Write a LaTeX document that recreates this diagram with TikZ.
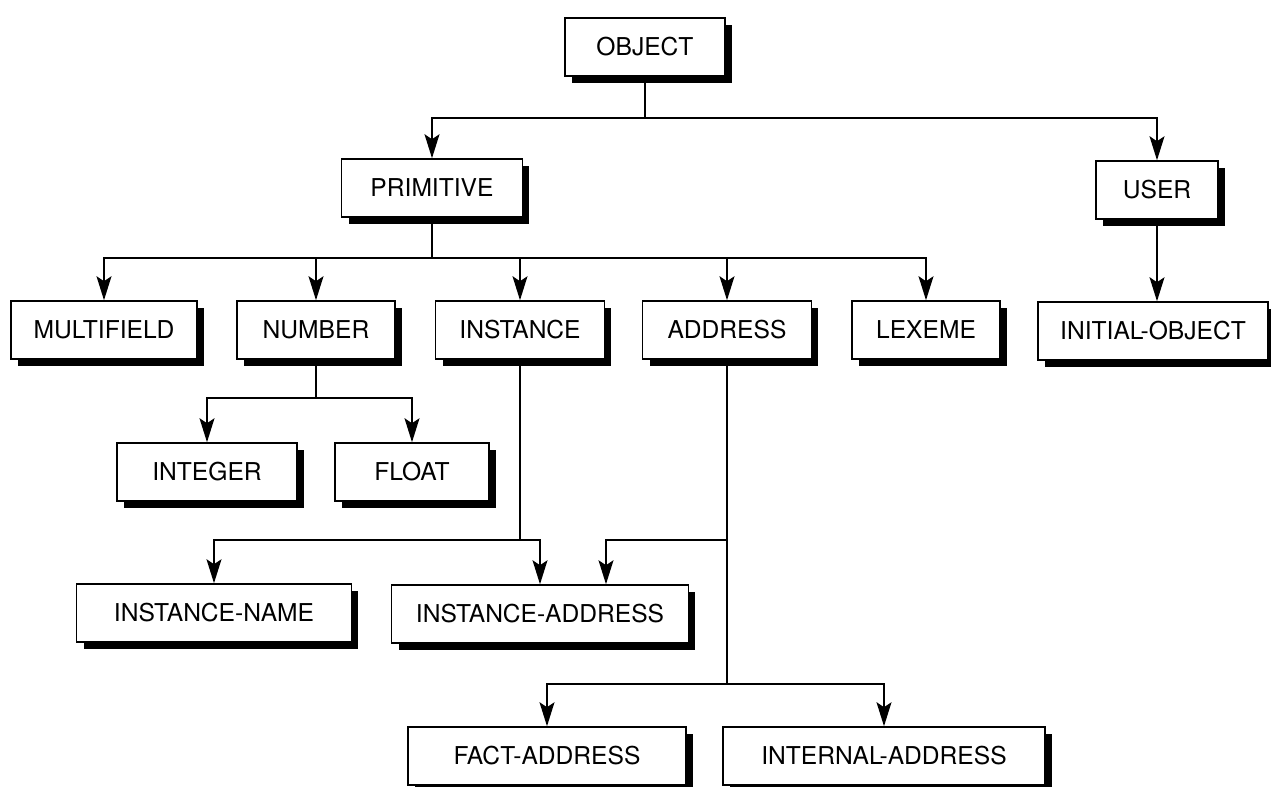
\documentclass[tikz,border=0pt]{standalone}
\usepackage{fontspec}
\setmainfont{TeX Gyre Heros}
\usetikzlibrary{arrows.meta,shadows}
\begin{document}
\begin{tikzpicture}[x=0.02cm,y=-0.02cm,
	box/.style={draw,line width=0.9pt,fill=white,minimum height=1.16cm,inner sep=0pt,
		font=\fontsize{14}{16}\selectfont,
		drop shadow={shadow xshift=0.14cm,shadow yshift=-0.14cm,fill=black,opacity=1}},
	arr/.style={-{Stealth[length=0.48cm,width=0.3cm,inset=0.1cm]}},
	every path/.style={line width=0.8pt}]
		\useasboundingbox (0,0) rectangle (1271,787);
		% top levels
		\node[box,minimum width=3.2cm] (object) at (645,47) {OBJECT};
		\node[box,minimum width=3.62cm] (primitive) at (432,188) {PRIMITIVE};
		\node[box,minimum width=2.44cm] (user) at (1157,190) {USER};
		% primitive types
		\node[box,minimum width=3.72cm] (multifield) at (104,330) {MULTIFIELD};
		\node[box,minimum width=3.16cm] (number) at (316,330) {NUMBER};
		\node[box,minimum width=3.38cm] (instance) at (520,330) {INSTANCE};
		\node[box,minimum width=3.38cm] (address) at (727,330) {ADDRESS};
		\node[box,minimum width=2.96cm] (lexeme) at (926,330) {LEXEME};
		\node[box,minimum width=4.6cm] (initobj) at (1153,331) {INITIAL-OBJECT};
		\node[box,minimum width=3.6cm] (integer) at (207,472) {INTEGER};
		\node[box,minimum width=3.08cm] (float) at (412,472) {FLOAT};
		\node[box,minimum width=5.5cm] (instname) at (214,613) {INSTANCE-NAME};
		\node[box,minimum width=5.94cm] (instaddr) at (540,614) {INSTANCE-ADDRESS};
		\node[box,minimum width=5.56cm] (factaddr) at (547,756) {FACT-ADDRESS};
		\node[box,minimum width=6.44cm] (intaddr) at (884,756) {INTERNAL-ADDRESS};
		% junctions
		\coordinate (j1) at (645,118);
		\coordinate (j2) at (432,258);
		\coordinate (j3) at (316,398);
		\coordinate (j4) at (520,540);
		\coordinate (j5) at (727,540);
		\coordinate (j6) at (727,684);
		% connectors
		\draw (object.south)--(j1);
		\draw[arr] (j1)-|(primitive.north);
		\draw[arr] (j1)-|(user.north);
		\draw (primitive.south)--(j2);
		\foreach \n in {multifield,number,instance,address,lexeme}
			\draw[arr] (j2)-|(\n.north);
		\draw[arr] (user.south)--(user.south |- initobj.north);
		\draw (number.south)--(j3);
		\draw[arr] (j3)-|(integer.north);
		\draw[arr] (j3)-|(float.north);
		\draw (instance.south)--(j4);
		\draw[arr] (j4)-|(instname.north);
		\draw[arr] (j4)-|(instaddr.north);
		\draw (address.south)--(j6);
		\draw[arr] (j5)-|([xshift=1.32cm]instaddr.north);
		\draw[arr] (j6)-|(factaddr.north);
		\draw[arr] (j6)-|(intaddr.north);
\end{tikzpicture}
\end{document}
